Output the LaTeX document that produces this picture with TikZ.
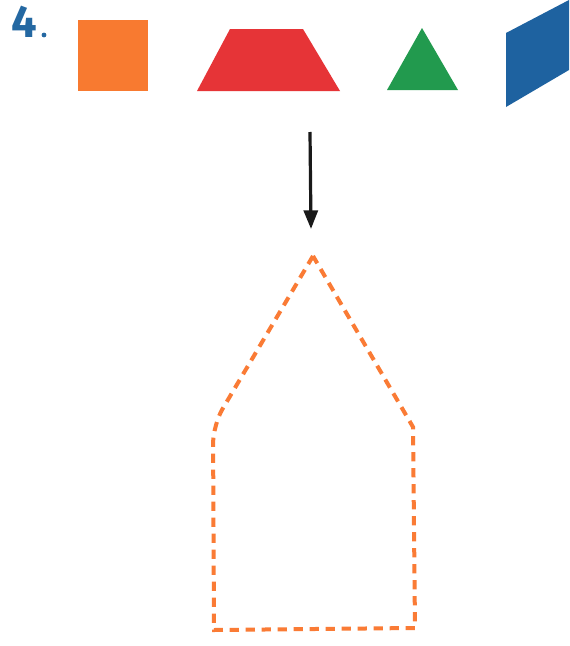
\documentclass[tikz,border=0pt]{standalone}
\usepackage{fontspec}
\setmainfont{Fira Sans}
\usetikzlibrary{arrows.meta}
\definecolor{numblue}{HTML}{2468A2}
\definecolor{sqorange}{HTML}{F87A30}
\definecolor{trred}{HTML}{E63437}
\definecolor{trgreen}{HTML}{229A4E}
\definecolor{pblue}{HTML}{1E62A0}
\definecolor{dashor}{HTML}{FA7B35}
\tikzset{
  shapefill/.style={draw=none},
  outline/.style={draw=dashor, line width=3pt, dash pattern=on 7pt off 5pt},
  arr/.style={draw=black!90, line width=2.4pt, -{Triangle[length=14pt,width=10.5pt]}}
}
\begin{document}
\begin{tikzpicture}[x=0.75pt,y=-0.75pt]
\useasboundingbox (0,0) rectangle (570,646);
\fill[white] (0,0) rectangle (570,646);
% number label
\node[anchor=base west, inner sep=0pt, text=numblue, font=\fontsize{34}{34}\selectfont\bfseries] (num) at (11,37) {4};
\fill[numblue] (44,35) circle (2.4) coordinate (dot);
% shapes
\fill[sqorange, shapefill] (78,20) rectangle (148,91);
\fill[trred, shapefill] (230,29) -- (303,29) -- (340,91) -- (197,91) -- cycle;
\fill[trgreen, shapefill] (422,28) -- (458,90) -- (387,90) -- cycle;
\fill[pblue, shapefill] (506,33) -- (569,0) -- (569,70) -- (506,107) -- cycle;
% arrow
\coordinate (as) at (310,132);
\coordinate (ae) at (311,229);
\draw[arr] (as) -- (ae);
% dashed outline
\coordinate (apex) at (313,256);
\coordinate (lc) at (213,425);
\coordinate (bl) at (214,630);
\coordinate (br) at (415,628);
\coordinate (rc) at (413,427);
\draw[outline] (apex) [rounded corners=14pt] -- (lc) [sharp corners] -- (bl) -- (br) -- (rc) -- cycle;
\end{tikzpicture}
\end{document}
